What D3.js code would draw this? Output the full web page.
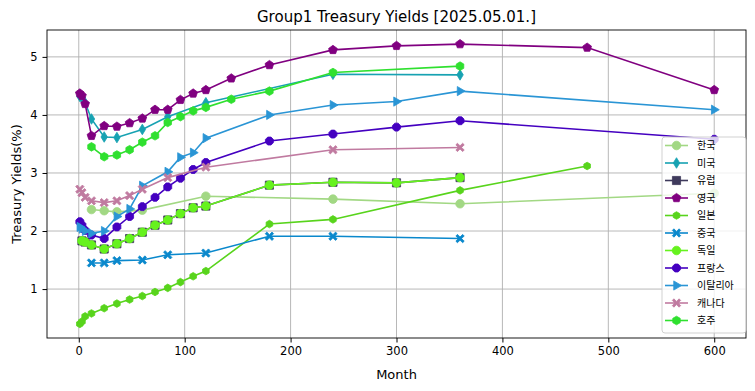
<!DOCTYPE html>
<html>
<head>
<meta charset="utf-8">
<script src="https://cdn.jsdelivr.net/npm/d3@7"></script>
<style>
  body { margin: 0; background: #fff; }
  text { font-family: "DejaVu Sans", sans-serif; }
</style>
</head>
<body>
<svg id="chart" width="755" height="391"></svg>
<script>
const title = 'Group1 Treasury Yields [2025.05.01.]';
const xLabel = 'Month';
const yLabel = 'Treasury Yields(%)';
const xTicks = [0, 100, 200, 300, 400, 500, 600];
const yTicks = [1, 2, 3, 4, 5];

const koreaMonths = [12, 24, 36, 60, 120, 240, 360, 600];
const koreaYields = [2.37, 2.35, 2.33, 2.36, 2.60, 2.55, 2.47, 2.65];

const usMonths = [1, 2, 3, 6, 12, 24, 36, 60, 84, 120, 240, 360];
const usYields = [4.32, 4.32, 4.30, 4.21, 3.93, 3.62, 3.61, 3.75, 3.97, 4.21, 4.70, 4.69];

const europeMonths = [3, 6, 12, 24, 36, 48, 60, 72, 84, 96, 108, 120, 180, 240, 300, 360];
const europeYields = [1.83, 1.81, 1.76, 1.69, 1.78, 1.87, 1.98, 2.10, 2.19, 2.30, 2.40, 2.43, 2.79, 2.84, 2.83, 2.92];

const ukMonths = [1, 3, 6, 12, 24, 36, 48, 60, 72, 84, 96, 108, 120, 144, 180, 240, 300, 360, 480, 600];
const ukYields = [4.37, 4.33, 4.19, 3.64, 3.81, 3.80, 3.86, 3.94, 4.09, 4.09, 4.26, 4.37, 4.43, 4.63, 4.86, 5.12, 5.19, 5.22, 5.16, 4.43];

const japanMonths = [1, 3, 6, 12, 24, 36, 48, 60, 72, 84, 96, 108, 120, 180, 240, 360, 480];
const japanYields = [0.40, 0.44, 0.53, 0.58, 0.67, 0.75, 0.82, 0.88, 0.95, 1.02, 1.12, 1.22, 1.31, 2.12, 2.20, 2.70, 3.12];

const chinaMonths = [12, 24, 36, 60, 84, 120, 180, 240, 360];
const chinaYields = [1.45, 1.45, 1.49, 1.50, 1.59, 1.62, 1.91, 1.91, 1.87];

const germanyMonths = [3, 6, 12, 24, 36, 48, 60, 72, 84, 96, 108, 120, 180, 240, 300, 360];
const germanyYields = [1.83, 1.81, 1.76, 1.69, 1.78, 1.87, 1.98, 2.10, 2.19, 2.30, 2.40, 2.43, 2.79, 2.84, 2.83, 2.92];

const franceMonths = [1, 3, 6, 12, 24, 36, 48, 60, 72, 84, 96, 108, 120, 180, 240, 300, 360, 600];
const franceYields = [2.16, 2.10, 2.01, 1.93, 1.87, 2.07, 2.25, 2.42, 2.58, 2.76, 2.91, 3.06, 3.18, 3.55, 3.67, 3.79, 3.90, 3.58];

const italyMonths = [1, 3, 6, 12, 24, 36, 48, 60, 84, 96, 108, 120, 180, 240, 300, 360, 600];
const italyYields = [2.07, 2.04, 2.00, 1.96, 2.00, 2.25, 2.38, 2.78, 3.02, 3.27, 3.35, 3.60, 4.00, 4.17, 4.23, 4.41, 4.09];

const canadaMonths = [1, 3, 6, 12, 24, 36, 48, 60, 84, 120, 240, 360];
const canadaYields = [2.72, 2.66, 2.58, 2.52, 2.49, 2.52, 2.61, 2.72, 2.92, 3.10, 3.40, 3.44];

const australiaMonths = [12, 24, 36, 48, 60, 72, 84, 96, 108, 120, 144, 180, 240, 360];
const australiaYields = [3.45, 3.28, 3.31, 3.40, 3.53, 3.64, 3.87, 3.97, 4.07, 4.13, 4.27, 4.41, 4.73, 4.84];

// marker shapes (d3 symbol types, size = radius^2)
const poly = (pts) => ({
  draw(ctx, size) {
    const r = Math.sqrt(size);
    pts.forEach(([x, y], i) => i ? ctx.lineTo(x * r, y * r) : ctx.moveTo(x * r, y * r));
    ctx.closePath();
  }
});
const ngon = (n, rot) => poly(d3.range(n).map(i => {
  const a = rot + i * 2 * Math.PI / n;
  return [Math.sin(a), -Math.cos(a)];
}));
const circle = { draw(ctx, size) { const r = Math.sqrt(size); ctx.moveTo(r, 0); ctx.arc(0, 0, r, 0, 2 * Math.PI); } };
const thinDiamond = poly([[0, -1.15], [0.7, 0], [0, 1.15], [-0.7, 0]]);
const square = poly([[-0.85, -0.85], [0.85, -0.85], [0.85, 0.85], [-0.85, 0.85]]);
const pentagon = ngon(5, 0);
const hexagon = ngon(6, 0);
const octagon = ngon(8, Math.PI / 8);
const triRight = poly([[1.1, 0], [-0.6, -1.0], [-0.6, 1.0]]);
const w = 0.38;
const xMark = poly([[0, -w], [1 - w, -1], [1, -1 + w], [w, 0], [1, 1 - w], [1 - w, 1], [0, w], [-1 + w, 1], [-1, 1 - w], [-w, 0], [-1, -1 + w], [-1 + w, -1]].map(([a, b]) => [a * 0.95, b * 0.95]));

const series = [
  { name: '한국', months: koreaMonths, values: koreaYields, color: '#a2d884', shape: circle, r: 4.3 },
  { name: '미국', months: usMonths, values: usYields, color: '#17a2b2', shape: thinDiamond, r: 4.6 },
  { name: '유럽', months: europeMonths, values: europeYields, color: '#3f3a5c', shape: square, r: 4.8 },
  { name: '영국', months: ukMonths, values: ukYields, color: '#800080', shape: pentagon, r: 4.6 },
  { name: '일본', months: japanMonths, values: japanYields, color: '#58d41c', shape: hexagon, r: 3.8 },
  { name: '중국', months: chinaMonths, values: chinaYields, color: '#0a88cc', shape: xMark, r: 4.4 },
  { name: '독일', months: germanyMonths, values: germanyYields, color: '#66f21e', shape: circle, r: 4.3 },
  { name: '프랑스', months: franceMonths, values: franceYields, color: '#4400c0', shape: octagon, r: 4.3 },
  { name: '이탈리아', months: italyMonths, values: italyYields, color: '#2a95d5', shape: triRight, r: 4.6 },
  { name: '캐나다', months: canadaMonths, values: canadaYields, color: '#c07aa0', shape: xMark, r: 4.4 },
  { name: '호주', months: australiaMonths, values: australiaYields, color: '#2fe02f', shape: hexagon, r: 4.3 }
];

const svg = d3.select('#chart');
const margin = { top: 30, right: 9, bottom: 53, left: 47 };
const width = 755 - margin.left - margin.right;
const height = 391 - margin.top - margin.bottom;
const g = svg.append('g').attr('transform', `translate(${margin.left},${margin.top})`);

const xScale = d3.scaleLinear().domain([-30, 630]).range([0, width]);
const yScale = d3.scaleLinear().domain([0.157, 5.463]).range([height, 0]);

// grid
g.append('g').selectAll('line').data(xTicks).join('line')
  .attr('x1', d => xScale(d)).attr('x2', d => xScale(d)).attr('y1', 0).attr('y2', height)
  .attr('stroke', '#b0b0b0').attr('stroke-width', 0.9);
g.append('g').selectAll('line').data(yTicks).join('line')
  .attr('y1', d => yScale(d)).attr('y2', d => yScale(d)).attr('x1', 0).attr('x2', width)
  .attr('stroke', '#b0b0b0').attr('stroke-width', 0.9);

// axes
const xAxis = g.append('g').attr('transform', `translate(0,${height})`)
  .call(d3.axisBottom(xScale).tickValues(xTicks).tickFormat(d3.format('d')).tickSize(4.5).tickPadding(4));
const yAxis = g.append('g')
  .call(d3.axisLeft(yScale).tickValues(yTicks).tickFormat(d3.format('d')).tickSize(4.5).tickPadding(5));
[xAxis, yAxis].forEach(a => {
  a.select('.domain').remove();
  a.selectAll('text').attr('font-size', 11.5).attr('fill', '#000').style('font-family', '"DejaVu Sans"');
  a.selectAll('line').attr('stroke', '#000');
});

// lines + markers
const line = d3.line().x(d => xScale(d[0])).y(d => yScale(d[1]));
series.forEach(s => {
  const pts = s.months.map((m, i) => [m, s.values[i]]);
  const sg = g.append('g');
  sg.append('path').datum(pts).attr('d', line)
    .attr('fill', 'none').attr('stroke', s.color).attr('stroke-width', 1.6);
  sg.selectAll('path.m').data(pts).join('path').attr('class', 'm')
    .attr('transform', d => `translate(${xScale(d[0])},${yScale(d[1])})`)
    .attr('d', d3.symbol(s.shape, s.r * s.r))
    .attr('fill', s.color).attr('stroke', s.color).attr('stroke-width', 0.8);
});

// frame
g.append('rect').attr('width', width).attr('height', height)
  .attr('fill', 'none').attr('stroke', '#000').attr('stroke-width', 0.9);

// titles
svg.append('text').attr('x', margin.left + width / 2).attr('y', 22)
  .attr('text-anchor', 'middle').attr('font-size', 15).text(title);
svg.append('text').attr('x', margin.left + width / 2).attr('y', 379)
  .attr('text-anchor', 'middle').attr('font-size', 13).text(xLabel);
svg.append('text').attr('transform', `translate(21,${margin.top + height / 2}) rotate(-90)`)
  .attr('text-anchor', 'middle').attr('font-size', 13).text(yLabel);

// legend
const lg = svg.append('g').attr('transform', 'translate(662,137)');
lg.append('rect').attr('width', 84).attr('height', 196).attr('rx', 3)
  .attr('fill', 'rgba(255,255,255,0.8)').attr('stroke', '#cccccc').attr('stroke-width', 0.9);
const row = lg.selectAll('g.row').data(series).join('g').attr('class', 'row')
  .attr('transform', (d, i) => `translate(0,${8.5 + i * 17.5})`);
row.append('line').attr('x1', 3).attr('x2', 26).attr('stroke', d => d.color).attr('stroke-width', 1.6);
row.append('path').attr('transform', 'translate(14.5,0)')
  .attr('d', d => d3.symbol(d.shape, d.r * d.r)())
  .attr('fill', d => d.color).attr('stroke', d => d.color).attr('stroke-width', 0.8);
row.append('text').attr('x', 35).attr('dy', '0.35em').attr('font-size', 10)
  .style('font-family', '"Noto Sans CJK KR", sans-serif').text(d => d.name);
</script>
</body>
</html>
